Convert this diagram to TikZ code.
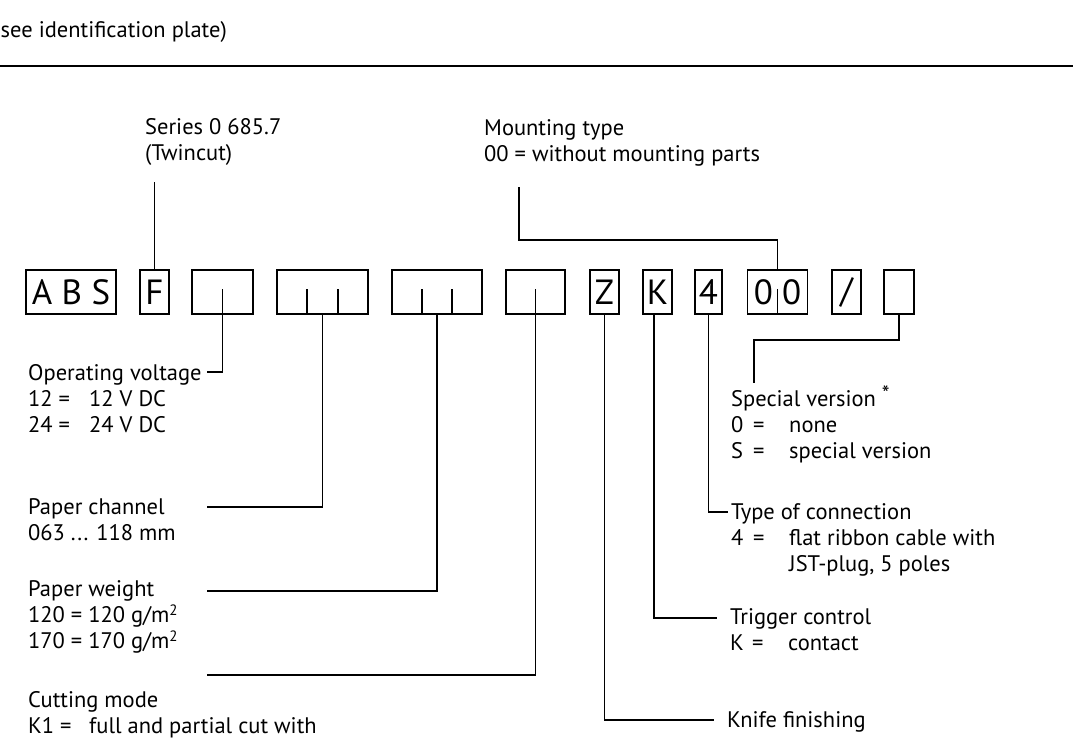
\documentclass[tikz,border=0pt]{standalone}
\usepackage{fontspec}
\setmainfont{PT Sans}
\newcommand{\kvl}[2]{\makebox[61pt][l]{#1}#2}
\newcommand{\kvr}[2]{\makebox[22pt][l]{#1}\makebox[36pt][l]{=}#2}
\newcommand{\sqm}{\raisebox{7pt}{\fontsize{15}{15}\selectfont 2}}
\begin{document}
\begin{tikzpicture}[x=1pt,y=-1pt,
  txt/.style={anchor=base west, inner sep=0pt, align=left, font=\fontsize{22.5}{26}\selectfont},
  cbox/.style={draw, line width=1.5pt, minimum height=44pt, inner sep=0pt, font=\fontsize{35}{35}\selectfont},
  lead/.style={line width=1.3pt},
  tick/.style={line width=1.1pt}]
\useasboundingbox[fill=white] (0,0) rectangle (1073,740);

% heading
\node[txt, anchor=base east] (hdr) at (227,37) {see identification plate)};
\coordinate (rl) at (0,66);
\coordinate (rr) at (1073,66);
\draw[line width=2pt] (rl) -- (rr);

% code boxes
\node[cbox, minimum width=90pt] (abs) at (71,292) {A B S};
\node[cbox, minimum width=29pt] (f) at (154.5,292) {F};
\node[cbox, minimum width=61pt] (b3) at (222.5,292) {};
\node[cbox, minimum width=91pt] (b4) at (322.5,292) {};
\node[cbox, minimum width=90pt] (b5) at (437,292) {};
\node[cbox, minimum width=59pt] (b6) at (535.5,292) {};
\node[cbox, minimum width=29pt] (z) at (604.5,292) {Z};
\node[cbox, minimum width=29pt] (k) at (657.5,292) {K};
\node[cbox, minimum width=27pt] (four) at (708.5,292) {4};
\node[cbox, minimum width=60pt] (oo) at (777.5,292) {0\hspace{9pt}0};
\node[cbox, minimum width=29pt] (sl) at (846.5,292) {/};
\node[cbox, minimum width=30pt] (sv) at (899,292) {};

% ticks inside boxes
\draw[tick] (b3.south) -- ++(0,-26);
\draw[tick] ([xshift=-15.5pt]b4.south) -- ++(0,-26);
\draw[tick] ([xshift=15.5pt]b4.south) -- ++(0,-26);
\draw[tick] ([xshift=-15pt]b5.south) -- ++(0,-26);
\draw[tick] ([xshift=15pt]b5.south) -- ++(0,-26);
\draw[tick] (b6.south) -- ++(0,-26);
\draw[tick] (oo.south) -- ++(0,-26);

% top labels (anchor = baseline of last line)
\node[txt] (series) at (145,160) {Series 0 685.7\\(Twincut)};
\node[txt] (mount) at (484,161) {Mounting type\\00 = without mounting parts};
\coordinate (fTop) at (154.5,182);
\draw[lead] (f.north) -- (fTop);
\coordinate (mt) at (519,187);
\coordinate (mtb) at (777.5,240);
\draw[lead] (mt) |- (mtb) -- (oo.north);

% left labels
\node[txt] (opv) at (28,432) {Operating voltage\\\kvl{12 =}{12 V DC}\\\kvl{24 =}{24 V DC}};
\node[txt] (pch) at (28,540) {Paper channel\\063 ... 118 mm};
\node[txt] (pwt) at (28,648) {Paper weight\\120 = 120 g/m\sqm\\170 = 170 g/m\sqm};
\node[txt] (cut) at (28,733) {Cutting mode\\\kvl{K1 =}{full and partial cut with}};
\coordinate (ov) at (207,372);
\coordinate (pc) at (207,507);
\coordinate (pw) at (207,591);
\coordinate (cm) at (207,675);
\draw[lead] (b3.south) |- (ov);
\draw[lead] (b4.south) |- (pc);
\draw[lead] (b5.south) |- (pw);
\draw[lead] (b6.south) |- (cm);

% right labels
\node[txt] (spv) at (731,458) {Special version \raisebox{5pt}{\fontsize{22}{22}\selectfont *}\\\kvr{0}{none}\\\kvr{S}{special version}};
\node[txt] (toc) at (731,571) {Type of connection\\\kvr{4}{flat ribbon cable with}\\\hspace{58pt}JST-plug, 5 poles};
\node[txt] (trg) at (730,650) {Trigger control\\\kvr{K}{contact}};
\node[txt] (knf) at (727,727) {Knife finishing};
\coordinate (sv1) at (754,340);
\coordinate (sv2) at (754,383);
\draw[lead] (sv.south) |- (sv1) -- (sv2);
\coordinate (tcn) at (728,512);
\draw[lead] (four.south) |- (tcn);
\coordinate (tc) at (717,618);
\draw[lead] ([xshift=-3.5pt]k.south) |- (tc);
\coordinate (kf) at (714,720);
\draw[lead] (z.south) |- (kf);
\end{tikzpicture}
\end{document}
